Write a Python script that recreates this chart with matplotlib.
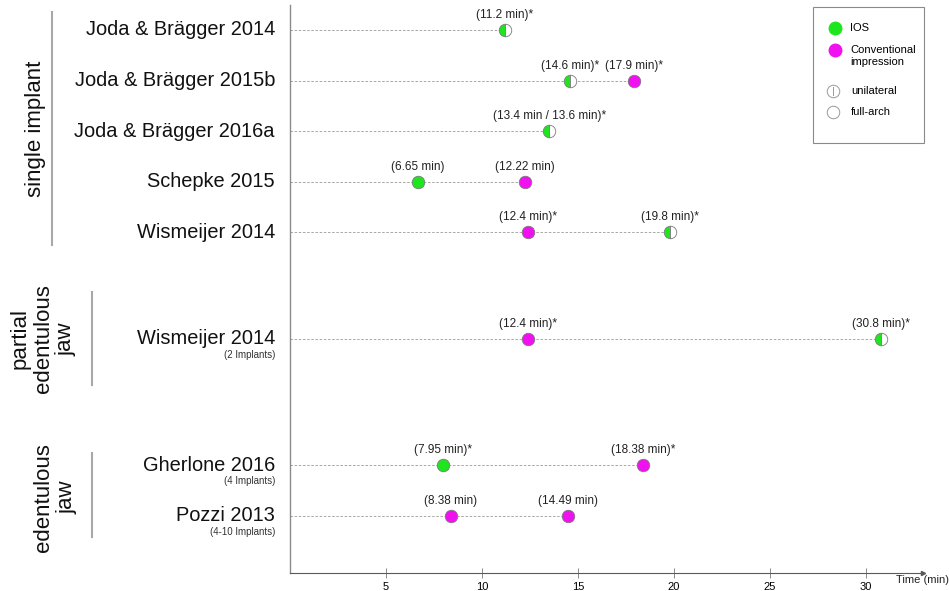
import matplotlib.pyplot as plt
import matplotlib.transforms as mtransforms
from matplotlib.patches import Rectangle

plt.rcParams['font.family'] = ['Liberation Sans', 'DejaVu Sans']

# rows (top to bottom)
studies = ['Joda & Brägger 2014', 'Joda & Brägger 2015b', 'Joda & Brägger 2016a',
           'Schepke 2015', 'Wismeijer 2014', 'Wismeijer 2014',
           'Gherlone 2016', 'Pozzi 2013']
study_notes = ['', '', '', '', '', '(2 Implants)', '(4 Implants)', '(4-10 Implants)']
row_y = [0, 1, 2, 3, 4, 6.1, 8.6, 9.6]

# measured points: row index, time (min), kind, label
pt_row = [0, 1, 1, 2, 3, 3, 4, 4, 5, 5, 6, 6, 7, 7]
pt_time = [11.2, 14.6, 17.9, 13.5, 6.65, 12.22, 12.4, 19.8, 12.4, 30.8, 7.95, 18.38, 8.38, 14.49]
pt_kind = ['ios_uni', 'ios_uni', 'conv', 'ios_uni', 'ios', 'conv', 'conv', 'ios_uni',
           'conv', 'ios_uni', 'ios', 'conv', 'conv', 'conv']
pt_label = ['(11.2 min)*', '(14.6 min)*', '(17.9 min)*', '(13.4 min / 13.6 min)*',
            '(6.65 min)', '(12.22 min)', '(12.4 min)*', '(19.8 min)*',
            '(12.4 min)*', '(30.8 min)*', '(7.95 min)*', '(18.38 min)*',
            '(8.38 min)', '(14.49 min)']

groups = ['single implant', 'partial\nedentulous\njaw', 'edentulous\njaw']
group_span = [(-0.36, 4.25), (5.18, 7.02), (8.36, 10.02)]

GREEN = '#1ee61e'
MAGENTA = '#f010f0'
EDGE = '#7a7a7a'

fig = plt.figure(figsize=(9.49, 5.91), dpi=100)
ax = fig.add_axes([290/949, 18/591, 633/949, 568/591])
ax.set_xlim(0, 32.97)
ax.set_ylim(10.73, -0.494)

# dashed guide lines up to the last point of each row
for i, y in enumerate(row_y):
    xs = [t for r, t in zip(pt_row, pt_time) if r == i]
    ax.plot([0, max(xs)], [y, y], ls=(0, (3, 2)), lw=0.6, color='#9a9a9a', zorder=1)

for r, t, k, lab in zip(pt_row, pt_time, pt_kind, pt_label):
    y = row_y[r]
    if k == 'conv':
        ax.plot(t, y, 'o', ms=9, mfc=MAGENTA, mec=EDGE, mew=0.6, zorder=3)
    elif k == 'ios':
        ax.plot(t, y, 'o', ms=9, mfc=GREEN, mec=EDGE, mew=0.6, zorder=3)
    else:
        ax.plot(t, y, 'o', ms=9, fillstyle='left', mfc=GREEN, mfcalt='white',
                mec=EDGE, mew=0.6, zorder=3)
    ax.annotate(lab, (t, y), xytext=(0, 15), textcoords='offset pixels',
                ha='center', va='center', fontsize=8.5, color='#222222')

# study labels
for name, note, y in zip(studies, study_notes, row_y):
    ax.annotate(name, (0, y), xytext=(-15, 0), textcoords='offset pixels',
                ha='right', va='center', fontsize=14.4, color='#111111',
                annotation_clip=False)
    if note:
        ax.annotate(note, (0, y), xytext=(-15, -16), textcoords='offset pixels',
                    ha='right', va='center', fontsize=7, color='#333333',
                    annotation_clip=False)

# group labels with bars
trans = mtransforms.blended_transform_factory(fig.transFigure, ax.transData)
group_x = [35/949, 43/949, 55/949]
bar_x = [52/949, 92/949, 92/949]
for g, (y0, y1), gx, bx in zip(groups, group_span, group_x, bar_x):
    ax.text(gx, (y0 + y1) / 2 + (0.05 if g.startswith('edent') else 0), g, transform=trans,
            rotation=90, ha='center', va='center', multialignment='center',
            fontsize=16, linespacing=1.15, color='#111111', clip_on=False)
    ax.plot([bx, bx], [y0, y1], transform=trans, color='#a8a8a8', lw=1.5, clip_on=False)

# axes styling
for s in ['top', 'right']:
    ax.spines[s].set_visible(False)
ax.spines['left'].set_color('#8a8a8a')
ax.spines['bottom'].set_color('#5a5a5a')
ax.spines['left'].set_linewidth(1)
ax.spines['bottom'].set_linewidth(0.8)
ax.set_yticks([])
ax.set_xticks([5, 10, 15, 20, 25, 30])
ax.tick_params(axis='x', direction='inout', length=7, width=0.6, color='#777777',
               labelsize=8, pad=3)
ax.plot(1, 0, '>', transform=ax.transAxes, ms=3, color='#5a5a5a', clip_on=False)
fig.text(896/949, 1 - 580/591, 'Time (min)', fontsize=8, ha='left', va='center',
         color='#222222')

# legend box
lax = fig.add_axes([813/949, 1 - 143/591, 111/949, 136/591])
lax.set_xlim(0, 111)
lax.set_ylim(136, 0)
lax.axis('off')
lax.add_patch(Rectangle((0, 0), 111, 136, fill=False, ec='#8a8a8a', lw=0.8, clip_on=False))
lax.plot(22, 21, 'o', ms=9, mfc=GREEN, mec=GREEN)
lax.text(37, 21, 'IOS', fontsize=8, va='center')
lax.plot(22, 43, 'o', ms=9, mfc=MAGENTA, mec=MAGENTA)
lax.text(37, 49, 'Conventional\nimpression', fontsize=8, va='center', linespacing=1.25)
lax.plot(20, 84, 'o', ms=9, mfc='white', mec='#999999', mew=0.7)
lax.plot([20, 20], [80, 88], color='#999999', lw=0.7)
lax.text(38, 84, 'unilateral', fontsize=8, va='center')
lax.plot(20, 105, 'o', ms=9, mfc='white', mec='#999999', mew=0.7)
lax.text(38, 105, 'full-arch', fontsize=8, va='center')

fig.savefig('out.png', dpi=100)
